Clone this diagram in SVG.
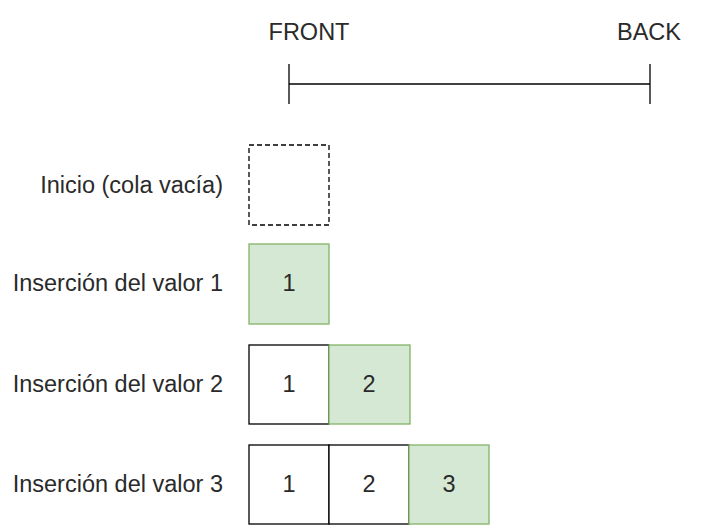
<svg xmlns="http://www.w3.org/2000/svg" width="708" height="532" viewBox="0 0 708 532">
<style>
text{font-family:"Liberation Sans",Arial,sans-serif;font-size:23.5px;fill:#2a2a2a}
.lbl{text-anchor:end}
.num{text-anchor:middle}
.box{fill:#ffffff;stroke:#000000;stroke-width:1.3}
.new{fill:#d5e8d4;stroke:#82b366;stroke-width:1.3}
.empty{fill:#ffffff;stroke:#000000;stroke-width:1.3;stroke-dasharray:5 3}
.ax{stroke:#000000;stroke-width:1.3;fill:none}
</style>
<rect width="708" height="532" fill="#ffffff"/>
<g id="axis">
<text x="309" y="40" class="num">FRONT</text>
<text x="649" y="40" class="num">BACK</text>
<line class="ax" x1="289" y1="84" x2="650" y2="84"/>
<line class="ax" x1="289" y1="64" x2="289" y2="104"/>
<line class="ax" x1="650" y1="64" x2="650" y2="104"/>
</g>
<g id="row0">
<text x="223" y="193" class="lbl">Inicio (cola vacía)</text>
<rect class="empty" x="249" y="145" width="80" height="80"/>
</g>
<g id="row1">
<text x="223" y="291" class="lbl">Inserción del valor 1</text>
<rect class="new" x="249" y="244" width="80" height="80"/>
<text x="289" y="291" class="num">1</text>
</g>
<g id="row2">
<text x="223" y="392" class="lbl">Inserción del valor 2</text>
<rect class="box" x="249" y="345" width="80" height="79"/>
<rect class="new" x="329" y="345" width="81" height="79"/>
<text x="289" y="392" class="num">1</text>
<text x="369" y="392" class="num">2</text>
</g>
<g id="row3">
<text x="223" y="492" class="lbl">Inserción del valor 3</text>
<rect class="box" x="249" y="445" width="80" height="79"/>
<rect class="box" x="329" y="445" width="80" height="79"/>
<rect class="new" x="409" y="445" width="80" height="79"/>
<text x="289" y="492" class="num">1</text>
<text x="369" y="492" class="num">2</text>
<text x="449" y="492" class="num">3</text>
</g>
</svg>
